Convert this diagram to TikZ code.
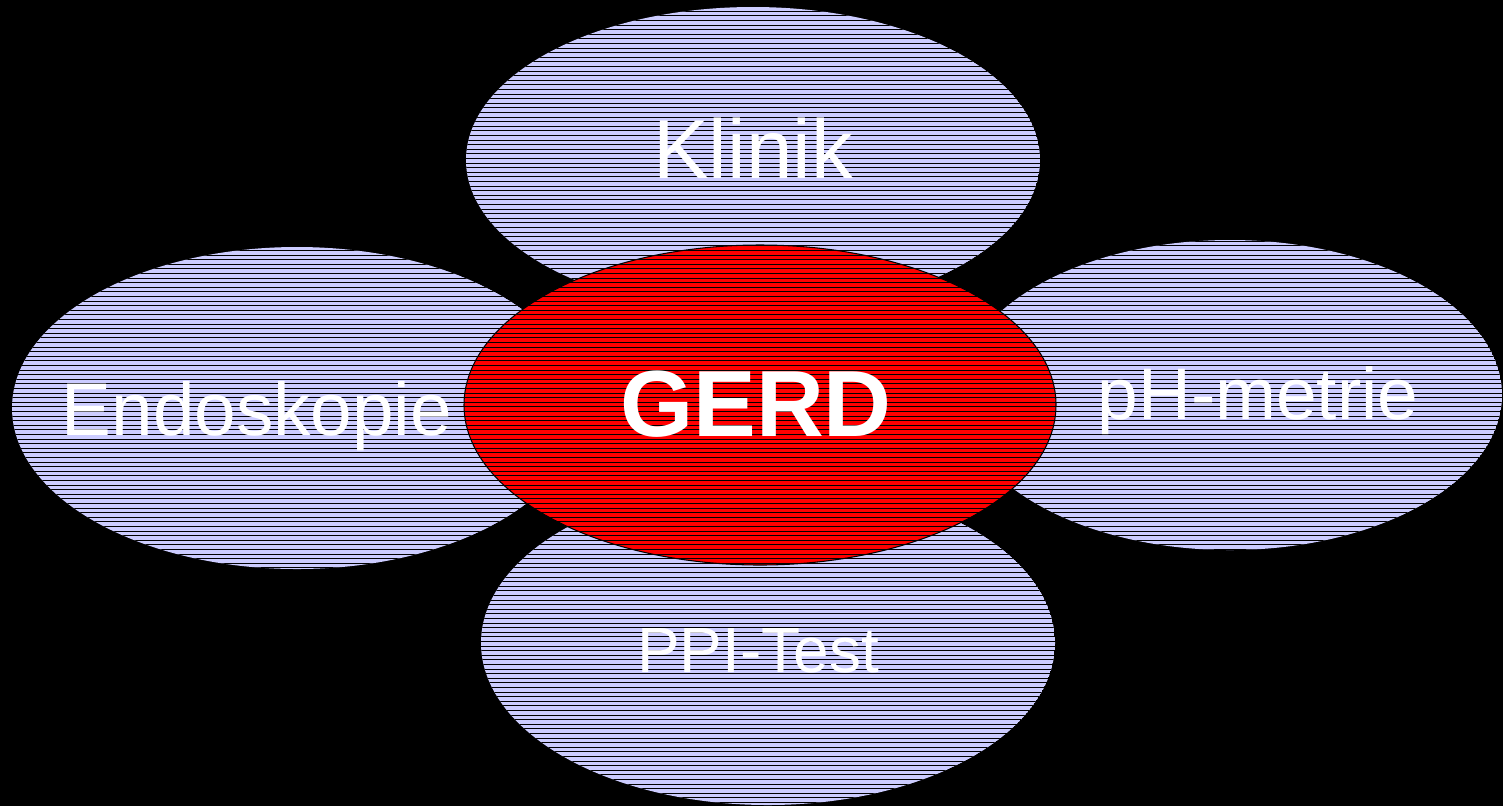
\documentclass[tikz,border=0pt]{standalone}
\usepackage{fontspec}
\setmainfont{Liberation Sans}
\usepackage{tikz}

\definecolor{lavender}{RGB}{204,204,255}
\definecolor{gerdred}{RGB}{255,0,0}

\begin{document}
\begin{tikzpicture}[x=0.02cm, y=-0.02cm,
  hatch/.style={black, line width=0.55pt},
  lbl/.style={text=white, inner sep=0pt, anchor=base}]

% background
\fill[black] (0,0) rectangle (1503,806);

% outer ellipses, then the red one on top
\foreach \cx/\cy/\rx/\ry/\col in {753/160/287/153/lavender,
                                  297/408/285/161/lavender,
                                  1230/395/272/155/lavender,
                                  768/643/287/162/lavender,
                                  760/405/296/160/gerdred}{
  \begin{scope}
    \clip (\cx,\cy) ellipse [x radius=\rx, y radius=\ry];
    \fill[\col] (\cx,\cy) ellipse [x radius=\rx, y radius=\ry];
    \foreach \yy in {2,6.6,...,806}
      \draw[hatch] (0,\yy) -- (1503,\yy);
  \end{scope}
}
\draw[black, line width=0.6pt] (760,405) ellipse [x radius=296, y radius=160];


% labels
\node[lbl, font=\fontsize{47.6pt}{50pt}\selectfont] (klinik) at (753,178) {Klinik};
\node[lbl, font=\fontsize{42.5pt}{45pt}\selectfont] (endo)   at (257,435) {Endoskopie};
\node[lbl, font=\fontsize{41.6pt}{44pt}\selectfont] (phm)    at (1258,419) {pH-metrie};
\node[lbl, font=\fontsize{36.4pt}{39pt}\selectfont] (ppi)    at (758,672) {PPI-Test};
\node[lbl, font=\bfseries\fontsize{53.5pt}{56pt}\selectfont] (gerd) at (756,436) {GERD};

\end{tikzpicture}
\end{document}
